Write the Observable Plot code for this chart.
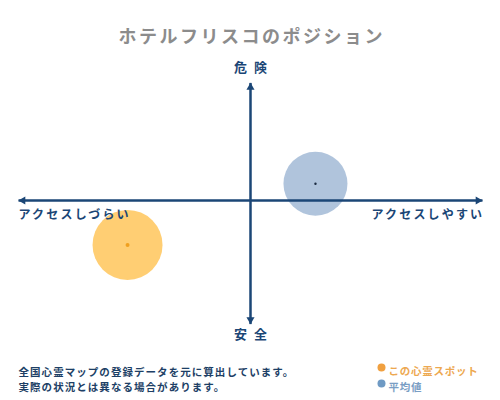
<!DOCTYPE html>
<html><head><meta charset="utf-8">
<script src="https://cdn.jsdelivr.net/npm/d3@7"></script>
<script src="https://cdn.jsdelivr.net/npm/@observablehq/plot@0.6"></script>
<style>body{margin:0;background:#fff} svg{display:block}</style>
</head><body><div id="chart"></div>
<script>
const title = "ホテルフリスコのポジション";
const topLabel = "危険";
const bottomLabel = "安全";
const leftLabel = "アクセスしづらい";
const rightLabel = "アクセスしやすい";
const footerLines = ["全国心霊マップの登録データを元に算出しています。", "実際の状況とは異なる場合があります。"];
const legendNames = ["この心霊スポット", "平均値"];
// positions in the chart's own units: access (-100..100), danger (-100..100)
const spot = [{name: "この心霊スポット", access: -53, danger: -37}];
const average = [{name: "平均値", access: 28, danger: 14}];
const axisV = [{x1: 0, y1: -103, x2: 0, y2: 98}];
const axisH = [{x1: -100, y1: 0, x2: 100, y2: 0}];

const navy = "#1b4676";
const F = "'Noto Sans CJK JP', sans-serif";

const plot = Plot.plot({
  width: 500, height: 400,
  marginTop: 0, marginRight: 0, marginBottom: 0, marginLeft: 0,
  x: {domain: [-100, 100], range: [18, 482], axis: null},
  y: {domain: [-100, 100], range: [320, 80], axis: null},
  style: {fontFamily: F, background: "#fff"},
  marks: [
    Plot.dot(spot, {x: "access", y: "danger", r: 35, fill: "#ffc65a", fillOpacity: 0.85}),
    Plot.dot(average, {x: "access", y: "danger", r: 32, fill: "#8eabcd", fillOpacity: 0.7}),
    Plot.dot(spot, {x: "access", y: "danger", r: 2, fill: "#f0a020"}),
    Plot.dot(average, {x: "access", y: "danger", r: 1.2, fill: "#1a2a40"}),
    Plot.link(axisV, {x1: "x1", y1: "y1", x2: "x2", y2: "y2", stroke: navy, strokeWidth: 2.5}),
    Plot.link(axisH, {x1: "x1", y1: "y1", x2: "x2", y2: "y2", stroke: navy, strokeWidth: 2.5}),
    Plot.dot(axisV, {x: "x2", y: "y2", symbol: "triangle", r: 3, fill: navy, dy: 4.5}),
    Plot.dot(axisV, {x: "x1", y: "y1", symbol: "triangle", r: 3, fill: navy, rotate: 180, dy: -4.5}),
    Plot.dot(axisH, {x: "x2", y: "y2", symbol: "triangle", r: 3, fill: navy, rotate: 90, dx: -4.5}),
    Plot.dot(axisH, {x: "x1", y: "y1", symbol: "triangle", r: 3, fill: navy, rotate: -90, dx: 4.5}),
    Plot.text(axisV, {x: "x2", y: "y2", dy: -15, dx: 3.5, text: () => topLabel, fontSize: 13, fontWeight: "bold", fill: navy}),
    Plot.text(axisV, {x: "x1", y: "y1", dy: 11, dx: 3.5, text: () => bottomLabel, fontSize: 13, fontWeight: "bold", fill: navy}),
    Plot.text(axisH, {x: "x1", y: "y1", dy: 15, text: () => leftLabel, textAnchor: "start", fontSize: 12, fontWeight: "bold", fill: navy}),
    Plot.text(axisH, {x: "x2", y: "y2", dy: 15, dx: 1.8, text: () => rightLabel, textAnchor: "end", fontSize: 12, fontWeight: "bold", fill: navy}),
    Plot.text([title], {frameAnchor: "top", dy: 30, dx: 1.2, text: d => d, fontSize: 18, fontWeight: 600, fill: "#8c8c8c"}),
    Plot.text([footerLines[0]], {frameAnchor: "top-left", dx: 18, dy: 368, text: d => d, textAnchor: "start", fontSize: 10.5, fontWeight: "bold", fill: "#1d3f66"}),
    Plot.text([footerLines[1]], {frameAnchor: "top-left", dx: 18, dy: 383, text: d => d, textAnchor: "start", fontSize: 10.5, fontWeight: "bold", fill: "#1d3f66"}),
    Plot.dot([legendNames[0]], {frameAnchor: "top-left", dx: 381, dy: 367, r: 4, fill: "#f0a040"}),
    Plot.dot([legendNames[1]], {frameAnchor: "top-left", dx: 381, dy: 383, r: 4, fill: "#6f9ac4"}),
    Plot.text([legendNames[0]], {frameAnchor: "top-left", dx: 388, dy: 367, text: d => d, textAnchor: "start", fontSize: 10.5, fontWeight: "bold", fill: "#eda850"}),
    Plot.text([legendNames[1]], {frameAnchor: "top-left", dx: 388, dy: 383, text: d => d, textAnchor: "start", fontSize: 10.5, fontWeight: "bold", fill: "#7a9ec4"})
  ]
});
const spacing = new Map([
  [title, 2.5], [topLabel, 7], [bottomLabel, 7], [leftLabel, 2.2], [rightLabel, 2.2],
  [footerLines[0], 1.05], [footerLines[1], 1.05], [legendNames[0], 0.75], [legendNames[1], 0.75]
]);
d3.select(plot).selectAll("text").each(function () {
  const v = spacing.get(this.textContent);
  if (v != null) this.setAttribute("letter-spacing", v);
});
document.getElementById("chart").appendChild(plot);
</script></body></html>
